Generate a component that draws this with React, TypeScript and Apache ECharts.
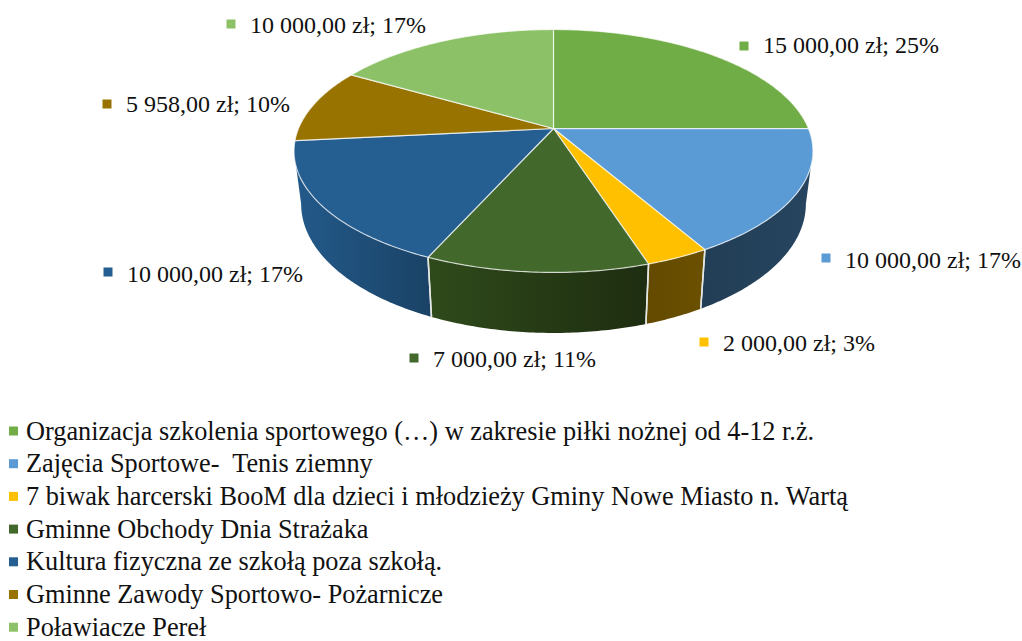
import React, { useEffect, useRef } from "react";
import * as echarts from "echarts";

const categories = [
  "Organizacja szkolenia sportowego (…) w zakresie piłki nożnej od 4-12 r.ż.",
  "Zajęcia Sportowe-  Tenis ziemny",
  "7 biwak harcerski BooM dla dzieci i młodzieży Gminy Nowe Miasto n. Wartą",
  "Gminne Obchody Dnia Strażaka",
  "Kultura fizyczna ze szkołą poza szkołą.",
  "Gminne Zawody Sportowo- Pożarnicze",
  "Poławiacze Pereł",
];
const values = [15000, 10000, 2000, 7000, 10000, 5958, 10000];
const valueLabels = [
  "15 000,00 zł; 25%",
  "10 000,00 zł; 17%",
  "2 000,00 zł; 3%",
  "7 000,00 zł; 11%",
  "10 000,00 zł; 17%",
  "5 958,00 zł; 10%",
  "10 000,00 zł; 17%",
];
const topColors = ["#70AD47", "#5B9BD5", "#FFC000", "#43682B", "#255E91", "#997300", "#8CC168"];
const wallLeft = ["#4C7530", "#274560", "#6B5000", "#2F4A1B", "#235A8A", "#6B5000", "#5F8346"];
const wallRight = ["#436A2A", "#223E56", "#634A00", "#1E2D10", "#1A4266", "#634A00", "#567A3E"];
const labelAnchors: [number, number][] = [
  [744, 46], [826, 258], [704, 342], [414, 358], [108, 272], [107, 104], [231, 24],
];
const labelTextY = [44.5, 259.5, 343, 358.5, 273.5, 103.5, 24.5];

const FONT = "'Liberation Serif', serif";
const LABEL_SIZE = 24;
const LEGEND_SIZE = 26.3;
const total = values.reduce((a, b) => a + b, 0);
const K = 0.185;
const CX = 553.5;
const top = { cy: 128.5, rx: 255, ry: 117.3 };
const bottom = { cy: 180.2, rx: 248, ry: 124.5 };
const FRONT_FROM = Math.PI - Math.acos(K);
const FRONT_TO = Math.PI + Math.acos(K);

function project(theta: number, g: { cy: number; rx: number; ry: number }): number[] {
  const px = Math.sin(theta);
  const py = Math.cos(theta);
  const d = 1 + K * py;
  return [CX + (g.rx * px) / d, g.cy - (g.ry * py) / d];
}
function arc(a: number, b: number, g: { cy: number; rx: number; ry: number }): number[][] {
  const n = Math.max(2, Math.ceil((b - a) / 0.012));
  const out: number[][] = [];
  for (let i = 0; i <= n; i++) out.push(project(a + ((b - a) * i) / n, g));
  return out;
}

const starts: number[] = [];
values.reduce((acc, v, i) => {
  starts[i] = acc;
  return acc + v;
}, 0);

function renderSlice(params: any, api: any) {
  const i = params.seriesIndex;
  const a = (api.value(1) / total) * Math.PI * 2;
  const b = ((api.value(1) + api.value(0)) / total) * Math.PI * 2;
  const children: any[] = [];
  const wa = Math.max(a, FRONT_FROM);
  const wb = Math.min(b, FRONT_TO);
  if (wb > wa) {
    const pts = arc(wa, wb, top).concat(arc(wa, wb, bottom).reverse());
    children.push({
      type: "polygon",
      z2: 1,
      shape: { points: pts },
      style: {
        fill: new echarts.graphic.LinearGradient(0, 0, 1, 0, [
          { offset: 0, color: i >= 3 ? wallLeft[i] : wallRight[i] },
          { offset: 1, color: i >= 3 ? wallRight[i] : wallLeft[i] },
        ]),
      },
    });
    [a, b].forEach((t) => {
      if (t > FRONT_FROM && t < FRONT_TO) {
        const p = project(t, top);
        const q = project(t, bottom);
        children.push({
          type: "line",
          z2: 2,
          shape: { x1: p[0], y1: p[1], x2: q[0], y2: q[1] },
          style: { stroke: "#E4E8E4", lineWidth: 1.5 },
        });
      }
    });
  }
  const pts = [[CX, top.cy]].concat(arc(a, b, top));
  children.push({
    type: "polygon",
    z2: 3,
    shape: { points: pts },
    style: { fill: topColors[i], stroke: "rgba(255,255,255,0.7)", lineWidth: 1.2, lineJoin: "round" },
  });
  const [mx, my] = labelAnchors[i];
  children.push({
    type: "rect",
    z2: 4,
    shape: { x: mx - 4.5, y: my - 4.5, width: 9, height: 9 },
    style: { fill: topColors[i] },
  });
  children.push({
    type: "text",
    z2: 4,
    style: {
      text: valueLabels[i],
      x: mx + 19,
      y: labelTextY[i],
      fill: "#111111",
      fontFamily: FONT,
      fontSize: LABEL_SIZE,
      verticalAlign: "middle",
      align: "left",
    },
  });
  return { type: "group", children };
}

export default function App() {
  const ref = useRef<HTMLDivElement>(null);
  useEffect(() => {
    document.body.style.margin = "0";
    const chart = echarts.init(ref.current!, undefined, { renderer: "svg" });
    chart.setOption({
      animation: false,
      backgroundColor: "#ffffff",
      legend: {
        orient: "vertical",
        left: 9,
        top: 418,
        padding: 0,
        height: 240,
        itemWidth: 9,
        itemHeight: 9,
        itemGap: 6.7,
        icon: "rect",
        selectedMode: false,
        data: categories,
        textStyle: {
          fontFamily: FONT,
          fontSize: LEGEND_SIZE,
          color: "#111111",
          lineHeight: 26,
          padding: [0, 0, 0, 3],
        },
      },
      series: categories.map((name, i) => ({
        type: "custom",
        name,
        coordinateSystem: "none",
        silent: true,
        itemStyle: { color: topColors[i] },
        renderItem: renderSlice,
        data: [[values[i], starts[i]]],
      })),
    });
    return () => chart.dispose();
  }, []);
  return <div ref={ref} style={{ position: "absolute", left: 0, top: 0, width: 1022, height: 641 }} />;
}
